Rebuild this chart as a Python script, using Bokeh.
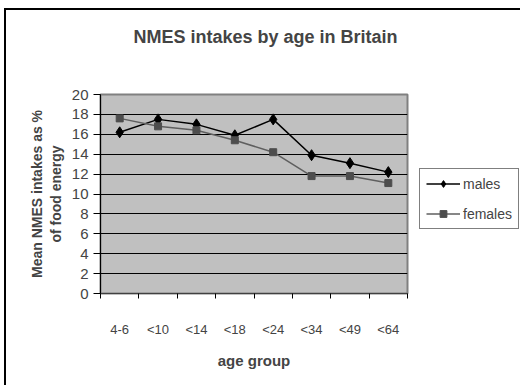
from bokeh.plotting import figure
from bokeh.models import FixedTicker, Range1d, Title
from bokeh.embed import file_html
from bokeh.resources import INLINE

# Mean NMES intake (% of food energy) per age group
age_groups = ["4-6", "<10", "<14", "<18", "<24", "<34", "<49", "<64"]
males = [16.2, 17.5, 17.0, 15.9, 17.5, 13.9, 13.1, 12.2]
females = [17.6, 16.8, 16.4, 15.4, 14.2, 11.8, 11.8, 11.1]
y_ticks = [0, 2, 4, 6, 8, 10, 12, 14, 16, 18, 20]

FONT = "Liberation Sans"

# categories sit at the middle of unit-wide slots; ticks mark the slot edges
centers = [i + 0.5 for i in range(len(age_groups))]
edges = list(range(len(age_groups) + 1))

p = figure(
    width=514, height=375,
    frame_width=307, frame_height=199,
    min_border_left=94, min_border_top=84,
    min_border_right=113, min_border_bottom=92,
    x_range=Range1d(0, len(age_groups)), y_range=Range1d(0, 20),
    output_backend="svg", toolbar_location=None,
    title="NMES intakes by age in Britain",
)
p.margin = (8, 0, 0, 4)
p.styles = {"border-left": "2px solid black", "border-top": "2px solid black"}

p.background_fill_color = "#c0c0c0"
p.border_fill_color = "white"
p.outline_line_color = "#808080"
p.outline_line_width = 2

# title, lifted away from the frame by an invisible spacer panel
p.title.text_font = FONT
p.title.text_font_size = "18px"
p.title.text_font_style = "bold"
p.title.align = "left"
p.title.offset = 33
p.title.standoff = 0
p.add_layout(Title(text=" ", text_font_size="10px", standoff=35), "above")

# x axis
xa = p.xaxis[0]
xa.ticker = FixedTicker(ticks=centers, minor_ticks=edges)
xa.major_label_overrides = {c: lab for c, lab in zip(centers, age_groups)}
xa.major_tick_out = 0
xa.major_tick_in = 0
xa.minor_tick_out = 5
xa.minor_tick_in = 0
xa.minor_tick_line_color = "black"
xa.major_label_standoff = 23
xa.major_label_text_font = FONT
xa.major_label_text_font_size = "13px"
xa.axis_label = "age group"
xa.axis_label_text_font = FONT
xa.axis_label_text_font_size = "15px"
xa.axis_label_text_font_style = "bold"
xa.axis_label_standoff = 12
xa.axis_line_color = "#404040"

# y axis
ya = p.yaxis[0]
ya.ticker = FixedTicker(ticks=y_ticks)
ya.major_tick_out = 7
ya.major_tick_in = 0
ya.minor_tick_out = 0
ya.minor_tick_in = 0
ya.major_label_standoff = 5
ya.major_label_text_font = FONT
ya.major_label_text_font_size = "15px"
ya.axis_label = "Mean NMES intakes as %\nof food energy"
ya.axis_label_text_font = FONT
ya.axis_label_text_font_size = "14px"
ya.axis_label_text_font_style = "bold"
ya.axis_label_standoff = 5
ya.axis_line_color = "black"

p.xgrid.visible = False
p.ygrid.grid_line_color = "black"
p.ygrid.grid_line_width = 1
p.ygrid.ticker = FixedTicker(ticks=y_ticks)

# series
p.line(centers, males, line_color="black", line_width=1.5, legend_label="males")
p.scatter(centers, males, marker="diamond", size=11, fill_color="black",
          line_color="black", legend_label="males")
p.line(centers, females, line_color="#5f5f5f", line_width=1.5, legend_label="females")
p.scatter(centers, females, marker="square", size=7, fill_color="#4d4d4d",
          line_color="#4d4d4d", legend_label="females")

leg = p.legend[0]
p.center.remove(leg)
leg.location = (12, 64)
leg.border_line_color = "black"
leg.border_line_width = 1
leg.background_fill_color = "white"
leg.label_text_font = FONT
leg.label_text_font_size = "14px"
leg.glyph_width = 34
leg.glyph_height = 17
leg.label_standoff = 3
leg.spacing = 13
leg.padding = 6
leg.margin = 0
p.add_layout(leg, "right")

open("out.html", "w").write(file_html(p, INLINE))
